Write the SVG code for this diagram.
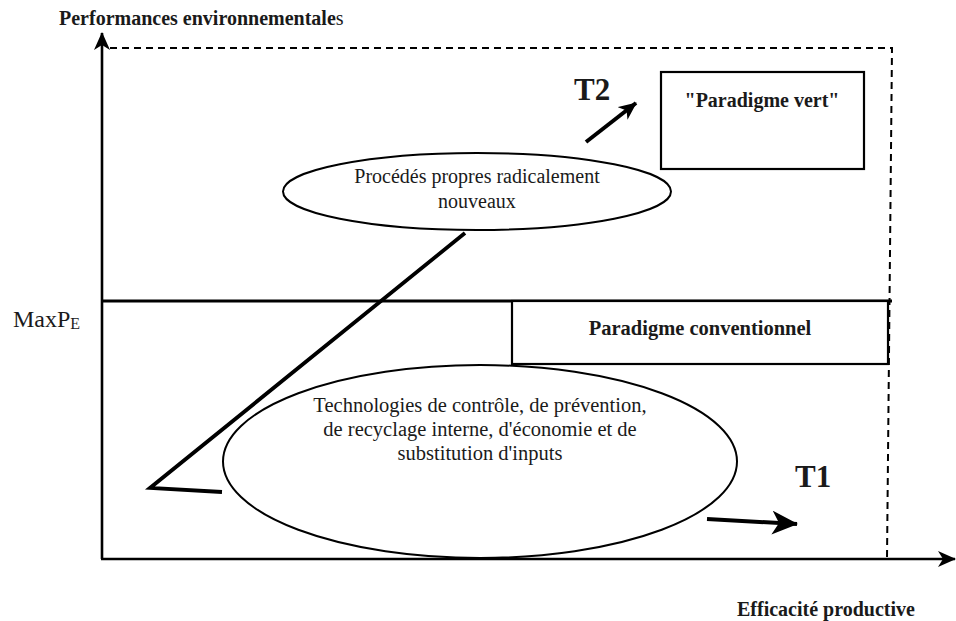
<svg xmlns="http://www.w3.org/2000/svg" width="956" height="621" viewBox="0 0 956 621">
<style>
.t{font-family:"Liberation Serif","Times New Roman",serif;fill:#1a1a1a}
.b{font-weight:bold}
.box{fill:#fff;stroke:#000;stroke-width:2.2}
.ell{fill:#fff;stroke:#000;stroke-width:2}
.ax{stroke:#000;stroke-width:2.6;fill:none}
.dash{stroke:#000;stroke-width:2;stroke-dasharray:7 5;fill:none}
.thick{stroke:#000;stroke-width:3.5;fill:none}
</style>
<defs>
<marker id="axh" markerUnits="userSpaceOnUse" viewBox="0 0 18 16" markerWidth="18" markerHeight="16" refX="17" refY="8" orient="auto"><path d="M0,0 L18,8 L0,16 L5,8 Z" fill="#000"/></marker>
<marker id="t1h" markerUnits="userSpaceOnUse" viewBox="0 0 26 24" markerWidth="26" markerHeight="24" refX="25" refY="12" orient="auto"><path d="M0,0 L26,12 L0,24 L7,12 Z" fill="#000"/></marker>
<marker id="t2h" markerUnits="userSpaceOnUse" viewBox="0 0 18 16" markerWidth="18" markerHeight="16" refX="17" refY="8" orient="auto"><path d="M0,0 L18,8 L0,16 L5,8 Z" fill="#000"/></marker>
</defs>
<rect width="956" height="621" fill="#fff"/>
<g id="frame">
<path class="dash" d="M110,48 L892,48 L887,559"/>
</g>
<g id="connectors">
<line class="ax" x1="102" y1="559" x2="102" y2="33" marker-end="url(#axh)"/>
<line class="ax" x1="101" y1="559" x2="955" y2="559" marker-end="url(#axh)"/>
<line x1="101" y1="301" x2="892" y2="301" stroke="#000" stroke-width="3.2"/>
<polyline points="465,233 150,488 222,492" fill="none" stroke="#000" stroke-width="3.8" stroke-linejoin="miter"/>
<line x1="707" y1="519" x2="797" y2="524" stroke="#000" stroke-width="4" marker-end="url(#t1h)"/>
<line x1="586" y1="142" x2="636" y2="103" stroke="#000" stroke-width="4" marker-end="url(#t2h)"/>
</g>
<g id="conventionnel">
<rect class="box" x="512" y="301" width="376" height="63"/>
<text class="t b" x="700" y="335" font-size="20.5" text-anchor="middle">Paradigme conventionnel</text>
</g>
<g id="vert">
<rect class="box" x="661" y="72" width="203" height="97"/>
<text class="t b" x="762" y="107" font-size="20" text-anchor="middle">"Paradigme vert"</text>
</g>
<g id="procedes">
<ellipse class="ell" cx="477" cy="191.5" rx="194" ry="38.5"/>
<text class="t" x="477" y="183" font-size="20" text-anchor="middle">Procédés propres radicalement</text>
<text class="t" x="477" y="208" font-size="20" text-anchor="middle">nouveaux</text>
</g>
<g id="technologies">
<ellipse class="ell" cx="480" cy="461.5" rx="257" ry="96.5"/>
<text class="t" x="480" y="412" font-size="20.5" text-anchor="middle">Technologies de contrôle, de prévention,</text>
<text class="t" x="480" y="436" font-size="20.5" text-anchor="middle">de recyclage interne, d'économie et de</text>
<text class="t" x="480" y="460" font-size="20.5" text-anchor="middle">substitution d'inputs</text>
</g>
<g id="labels">
<text class="t b" x="59" y="25" font-size="20">Performances environnementale<tspan font-weight="normal">s</tspan></text>
<text class="t b" x="737" y="616" font-size="20">Efficacité productive</text>
<text class="t" x="13" y="327" font-size="24">MaxP<tspan font-size="16" dy="2">E</tspan></text>
<text class="t b" x="574" y="100" font-size="31">T2</text>
<text class="t b" x="795" y="487" font-size="31">T1</text>
</g>
</svg>
